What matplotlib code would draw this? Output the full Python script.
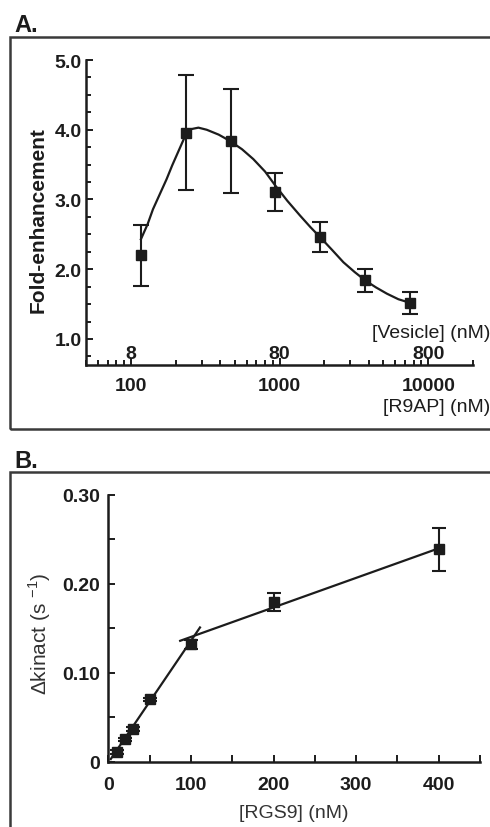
import matplotlib
matplotlib.use('Agg')
import matplotlib.pyplot as plt
from matplotlib.patches import Rectangle
from matplotlib.ticker import MultipleLocator, LogLocator, NullFormatter, FixedLocator

plt.rcParams['font.family'] = ['Liberation Sans', 'DejaVu Sans']

# PANEL A DATA - fold enhancement vs [R9AP]
r9ap = [117.2, 234.4, 468.75, 937.5, 1875, 3750, 7500]
fold = [2.20, 3.96, 3.84, 3.11, 2.46, 1.84, 1.52]
fold_err = [0.44, 0.83, 0.74, 0.27, 0.22, 0.16, 0.16]
# fitted curve
fit_a_x = [117, 130, 141, 157, 174, 190, 208, 231, 256, 285, 324, 390, 464, 560, 666, 800,
           937, 1130, 1374, 1620, 1875, 2250, 2690, 3200, 3767, 4450, 5270, 6300, 7500]
fit_a_y = [2.43, 2.65, 2.86, 3.08, 3.29, 3.49, 3.68, 3.90, 4.01, 4.03, 4.00, 3.93, 3.84, 3.72,
           3.58, 3.40, 3.20, 2.98, 2.77, 2.60, 2.46, 2.28, 2.10, 1.96, 1.84, 1.74, 1.65, 1.57, 1.52]
r9ap_ticks = [100, 1000, 10000]
vesicle_ticks = [8, 80, 800]

# PANEL B DATA - delta kinact vs [RGS9]
rgs9 = [10, 20, 30, 50, 100, 200, 400]
kinact = [0.011, 0.025, 0.037, 0.070, 0.132, 0.180, 0.239]
kinact_err = [0.002, 0.002, 0.002, 0.002, 0.005, 0.010, 0.024]
fit1_x = [3, 111]
fit1_y = [0.003, 0.151]
fit2_x = [87, 400]
fit2_y = [0.136, 0.240]

W, H = 490, 828
fig = plt.figure(figsize=(W / 100, H / 100), dpi=100)
ink = '#1c1c1c'
frame = '#3a3a3a'

def fx(px):
    return px / W

def fy(py):
    return 1 - py / H

# panel frames (run off the page like the original)
fig.patches.append(Rectangle((fx(9.5), fy(430)), fx(500 - 9.5), fy(38) - fy(430),
                             transform=fig.transFigure, fill=False, lw=1.8, ec=frame))
fig.patches.append(Rectangle((fx(9.5), fy(840)), fx(500 - 9.5), fy(473) - fy(840),
                             transform=fig.transFigure, fill=False, lw=1.8, ec=frame))
fig.text(fx(14), fy(32), 'A.', fontsize=17, fontweight='bold', color=ink, va='baseline')
fig.text(fx(14), fy(468), 'B.', fontsize=17, fontweight='bold', color=ink, va='baseline')


def style_axes(ax):
    for s in ['top', 'right']:
        ax.spines[s].set_visible(False)
    for s in ['left', 'bottom']:
        ax.spines[s].set_linewidth(1.8)
        ax.spines[s].set_color(ink)
    ax.tick_params(which='both', direction='in', width=1.4, color=ink,
                   labelsize=14, labelcolor=ink)
    ax.tick_params(which='major', length=5)
    ax.tick_params(which='minor', length=3.5)
    for lab in ax.get_xticklabels() + ax.get_yticklabels():
        lab.set_fontweight('bold')


# PANEL A
ax1 = fig.add_axes([fx(86), fy(366), fx(473 - 86), fy(61) - fy(366)])
ax1.set_xscale('log')
ax1.set_xlim(50, 20000)
ax1.set_ylim(0.627, 5.0)
ax1.plot(fit_a_x, fit_a_y, color=ink, lw=1.6, zorder=2)
ax1.errorbar(r9ap, fold, yerr=fold_err, fmt='s', color=ink, ms=6.5, capsize=6,
             elinewidth=1.5, capthick=1.5, zorder=3)
ax1.set_yticks([1, 2, 3, 4, 5])
ax1.set_yticklabels(['1.0', '2.0', '3.0', '4.0', '5.0'])
ax1.yaxis.set_minor_locator(MultipleLocator(0.25))
ax1.xaxis.set_major_locator(FixedLocator(r9ap_ticks))
ax1.set_xticklabels([str(t) for t in r9ap_ticks])
ax1.xaxis.set_minor_locator(LogLocator(base=10, subs=range(2, 10)))
ax1.xaxis.set_minor_formatter(NullFormatter())
style_axes(ax1)
ax1.tick_params(axis='x', pad=9)
ax1.tick_params(axis='y', pad=3)
ax1.set_ylabel('Fold-enhancement', fontsize=15, fontweight='bold', color=ink)
ax1.yaxis.set_label_coords(-0.10, 0.48)
ax1.set_xlabel('[R9AP] (nM)', fontsize=14, color=ink)
ax1.xaxis.set_label_coords(1.045, -0.108)
ax1.xaxis.label.set_ha('right')
ax1.text(1.045, 0.105, '[Vesicle] (nM)', transform=ax1.transAxes, fontsize=14,
         color=ink, ha='right', va='center')

# vesicle scale drawn as a second x axis sharing the bottom line
sec = ax1.secondary_xaxis(0, functions=(lambda x: x / 12.5, lambda x: x * 12.5))
sec.xaxis.set_ticks_position('top')
sec.set_xticks(vesicle_ticks)
sec.set_xticklabels([str(t) for t in vesicle_ticks])
sec.xaxis.set_minor_locator(FixedLocator([]))
sec.tick_params(axis='x', length=0, labelsize=14, labelcolor=ink, pad=2.5)
for lab in sec.get_xticklabels():
    lab.set_fontweight('bold')
sec.spines['bottom'].set_visible(False)
sec.spines['top'].set_visible(False)

# PANEL B
ax2 = fig.add_axes([fx(108.3), fy(762.7), fx(480 - 108.3), fy(496) - fy(762.7)])
ax2.set_xlim(0, 450)
ax2.set_ylim(0, 0.30)
ax2.plot(fit1_x, fit1_y, color=ink, lw=1.6, zorder=2)
ax2.plot(fit2_x, fit2_y, color=ink, lw=1.6, zorder=2)
ax2.errorbar(rgs9, kinact, yerr=kinact_err, fmt='s', color=ink, ms=6.5, capsize=5,
             elinewidth=1.5, capthick=1.5, zorder=3)
ax2.set_xticks([0, 100, 200, 300, 400])
ax2.xaxis.set_minor_locator(MultipleLocator(50))
ax2.set_yticks([0, 0.1, 0.2, 0.3])
ax2.set_yticklabels(['0', '0.10', '0.20', '0.30'])
ax2.yaxis.set_minor_locator(MultipleLocator(0.05))
style_axes(ax2)
ax2.tick_params(which='minor', length=5)
ax2.tick_params(axis='x', pad=10)
ax2.tick_params(axis='y', pad=6)
ax2.set_ylabel('\u0394kinact (s $^{\\mathregular{-1}}$)', fontsize=15, color='#333333')
ax2.yaxis.set_label_coords(-0.15, 0.484)
ax2.set_xlabel('[RGS9] (nM)', fontsize=14, color='#333333', labelpad=8)

fig.savefig('out.png', dpi=100)
